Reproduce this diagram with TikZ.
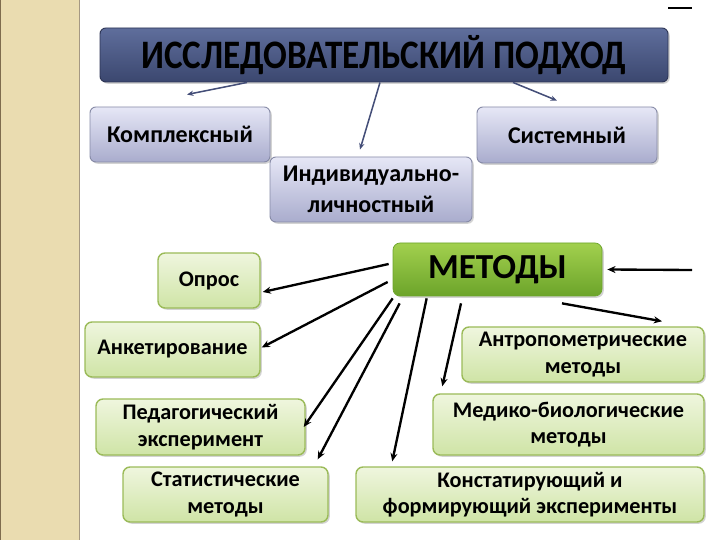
\documentclass[tikz,border=0pt]{standalone}
\usepackage{graphicx}
\usepackage{fontspec}
\setmainfont{Carlito}
\usetikzlibrary{
   arrows.meta,
   calc,
   shadows
}

\definecolor{stripfill}{HTML}{EADCB0}
\definecolor{stripedge}{HTML}{7E6C4E}
\definecolor{titletop}{HTML}{5F6E9C}
\definecolor{titlebot}{HTML}{3B476F}
\definecolor{titleedge}{HTML}{2C3454}
\definecolor{lavtop}{HTML}{E6E7F6}
\definecolor{lavbot}{HTML}{A9ACCD}
\definecolor{lavedge}{HTML}{868AA6}
\definecolor{methtop}{HTML}{A2D04E}
\definecolor{methbot}{HTML}{6CA42A}
\definecolor{greentop}{HTML}{EFF6DE}
\definecolor{greenbot}{HTML}{CFE4A6}
\definecolor{greenedge}{HTML}{9BBB59}
\definecolor{arrblue}{HTML}{444E78}

\begin{document}
\begin{tikzpicture}[
  x=0.03cm, y=-0.03cm,
  every node/.style={align=center, inner sep=0pt, text=black},
  size/.style 2 args={minimum width=#1*0.03cm, minimum height=#2*0.03cm},
  shade/.style={drop shadow={shadow xshift=1.5pt, shadow yshift=-1.5pt, opacity=0.35}},
  headbox/.style={rounded corners=5pt, draw=titleedge, line width=0.8pt,
    top color=titletop, bottom color=titlebot, shade,
    font=\fontsize{30}{34}\selectfont\bfseries},
  approach/.style={rounded corners=5pt, draw=lavedge, line width=0.8pt,
    top color=lavtop, bottom color=lavbot, shade,
    font=\fontsize{20.5}{26.5}\selectfont\bfseries},
  mainbox/.style={rounded corners=6pt, draw=methbot, line width=0.6pt,
    top color=methtop, bottom color=methbot, shade,
    font=\fontsize{30}{32}\selectfont\bfseries},
  method/.style={rounded corners=6pt, draw=greenedge, line width=1.2pt,
    top color=greentop, bottom color=greenbot, shade,
    font=\fontsize{19}{22.5}\selectfont\bfseries},
  thinarr/.style={-{Stealth[length=5.5pt,width=4.5pt]}, line width=1.3pt, draw=arrblue},
  thickarr/.style={-{Stealth[length=7pt,width=6pt]}, line width=2pt},
]

\useasboundingbox (0,0) rectangle (720,540);

% side strip
\fill[stripfill] (0,0) rectangle (80,540);
\draw[stripedge, line width=0.8pt] (0.5,0) -- (0.5,540);
\draw[stripedge!70, line width=0.8pt] (79.5,0) -- (79.5,540);
\draw[line width=1.6pt] (668,8) -- (692,8);

% approach
\node[headbox, size={568}{54}] (title) at (384,55) {\scalebox{1}[1.15]{ИССЛЕДОВАТЕЛЬСКИЙ ПОДХОД}};
\node[approach, size={180}{55}] (kompl) at (180,134.5) {Комплексный};
\node[approach, size={180}{56}] (sist) at (567,135) {Системный};
\node[approach, size={202}{65}] (indiv) at (371,189.5) {Индивидуально-\\личностный};

\draw[thinarr] ($(title.south)+(-137,0)$) -- ($(kompl.north)+(7,-12)$);
\draw[thinarr] ($(title.south)+(-4,0)$) -- ($(indiv.north)+(-11,-7)$);
\draw[thinarr] ($(title.south)+(129,0)$) -- ($(sist.north)+(-10,-6)$);

% methods
\node[mainbox, size={209}{53}] (metody) at (497.5,269.5) {МЕТОДЫ};
\node[method, size={102}{55}] (opros) at (209,280.5) {Опрос};
\node[method, size={175}{55}] (anket) at (172.5,349.5) {Анкетирование};
\node[method, size={242}{55}] (antrop) at (583,354.5) {Антропометрические\\методы};
\node[method, size={209}{56}] (ped) at (200.5,427) {Педагогический\\эксперимент};
\node[method, size={271}{61}] (medbio) at (568.5,424.5) {Медико-биологические\\методы};
\node[method, size={205}{55}] (stat) at (225.5,494.5) {Статистические\\методы};
\node[method, size={348}{55}] (konst) at (530,494.5) {Констатирующий и\\формирующий эксперименты};

\coordinate (inlet) at (692,270);
\draw[thickarr] (inlet) -- ($(metody.east)+(5,0)$);
\draw[thickarr] ($(metody.west)+(-4,-5.5)$) -- ($(opros.east)+(2,11.5)$);
\draw[thickarr] ($(metody.west)+(-5,12.5)$) -- ($(anket.east)+(1,-2)$);
\draw[thickarr] ($(metody.south west)+(0,2)$) -- ($(ped.east)+(-2,0)$);
\draw[thickarr] ($(metody.south west)+(7,7)$) -- ($(stat.north east)+(-11,-7)$);
\draw[thickarr] ($(metody.south west)+(34,2)$) -- ($(konst.north west)+(37,-5)$);
\draw[thickarr] ($(metody.south)+(-36.5,7)$) -- ($(medbio.north west)+(10,-7)$);
\draw[thickarr] ($(metody.south)+(64.5,7)$) -- ($(antrop.north)+(79,-5)$);

\end{tikzpicture}
\end{document}
